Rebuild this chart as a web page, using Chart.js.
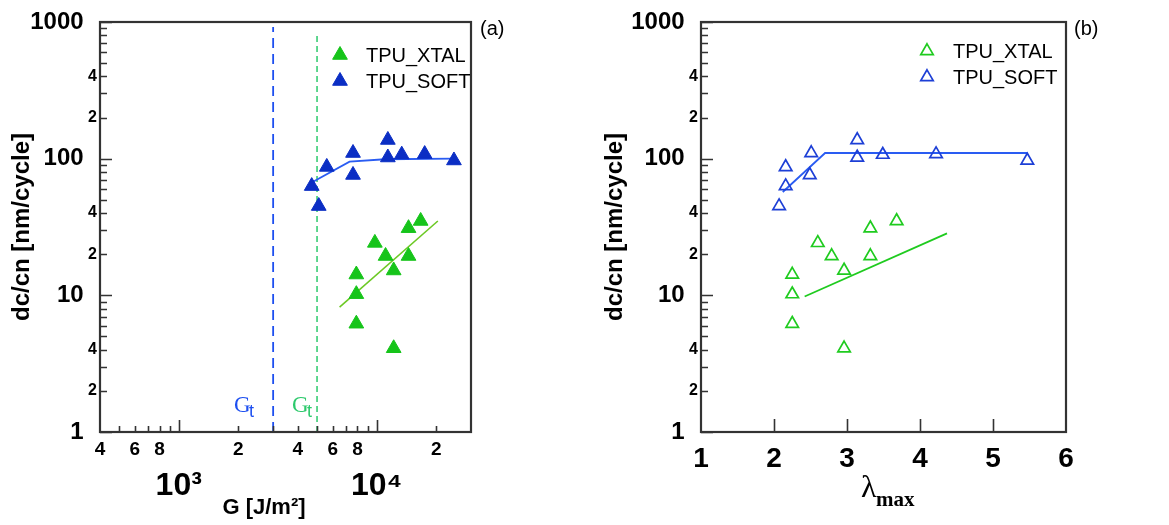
<!DOCTYPE html>
<html>
<head>
<meta charset="utf-8">
<script src="https://cdn.jsdelivr.net/npm/chart.js@4.4.1/dist/chart.umd.min.js"></script>
<style>
  html, body { margin: 0; padding: 0; background: #fff; }
  #wrap { position: relative; width: 1169px; height: 525px; }
  canvas { position: absolute; top: 0; }
  #chartA { left: 0; }
  #chartB { left: 580px; }
</style>
</head>
<body>
<div id="wrap">
  <canvas id="chartA" width="580" height="525"></canvas>
  <canvas id="chartB" width="589" height="525"></canvas>
</div>
<script>
// ===== DADOS =====
// painel (a): taxa x G [J/m2]
const xtalG    = [7900, 7900, 7900, 9800, 11100, 12200, 12200, 14500, 14500, 16700];
const xtalRate = [14.2, 10.2, 6.2, 24.2, 19.4, 15.2, 4.1, 31, 19.4, 35];
const softG    = [4700, 5100, 5600, 7600, 7600, 11400, 11400, 13400, 17500, 24600];
const softRate = [63, 45, 87, 110, 76, 137, 102, 107, 108, 97];

// ajustes do painel (a)
const xtalFitG    = [6500, 20400];
const xtalFitRate = [8.2, 35];
const softFitG    = [4700, 7300, 11000, 24600];
const softFitRate = [67, 95, 99, 100];

// limiares Gt
const gtSoft = 3000;
const gtXtal = 5000;

// painel (b): taxa x lambda_max
const xtalLambda  = [2.25, 2.25, 2.25, 2.60, 2.79, 2.96, 2.96, 3.32, 3.32, 3.68];
const xtalRateB   = [14.2, 10.2, 6.2, 24.2, 19.4, 15.2, 4.1, 31, 19.4, 35];
const softLambda  = [2.07, 2.16, 2.16, 2.49, 2.51, 3.14, 3.14, 3.49, 4.22, 5.47];
const softRateB   = [45, 63, 87, 76, 110, 137, 102, 107, 108, 97];

// ajustes do painel (b)
const xtalFitLambda = [2.42, 4.37];
const xtalFitRateB  = [9.8, 28.4];
const softFitLambda = [2.12, 2.70, 5.47];
const softFitRateB  = [57, 110, 110];

// rótulos dos eixos
const yLabelValues = [1, 2, 4, 10, 20, 40, 100, 200, 400, 1000];
const yLabelTexts  = ['1', '2', '4', '10', '2', '4', '100', '2', '4', '1000'];
const gLabelValues = [400, 600, 800, 1000, 2000, 4000, 6000, 8000, 10000, 20000];
const gLabelTexts  = ['4', '6', '8', '10³', '2', '4', '6', '8', '10⁴', '2'];
const lambdaTicks  = [1, 2, 3, 4, 5, 6];

// ===== ESTILO =====
const FONT = "'Liberation Sans', Arial, sans-serif";
const SERIF = "'Liberation Serif', 'Times New Roman', serif";
const VERDE = '#16c41a';
const AZUL = '#0b2ec4';
const AZUL_LINHA = '#2a5cf2';
const VERDE_LINHA = '#6cc924';
const VERDE_B = '#1fcb1f';
const AZUL_B = '#1d3fd6';

function isDecade(v) {
  const l = Math.log10(v);
  return Math.abs(l - Math.round(l)) < 1e-9;
}

function pontos(xs, ys) {
  return xs.map((x, i) => ({ x, y: ys[i] }));
}

// marcas menores dos eixos log (1..9 por década)
function logMarks(min, max) {
  const out = [];
  for (let d = 1; d <= max; d *= 10) {
    for (let k = 1; k <= 9; k++) {
      const v = k * d;
      if (v >= min && v <= max) out.push(v);
    }
  }
  return out;
}

// Eixo Y (igual nos dois painéis)
function eixoY(largura, tituloPad) {
  return {
    type: 'logarithmic',
    min: 1,
    max: 1000,
    afterBuildTicks: s => { s.ticks = logMarks(1, 1000).map(v => ({ value: v })); },
    afterFit: s => { s.width = largura; },
    grid: { display: false, drawTicks: false },
    border: { display: false },
    ticks: {
      autoSkip: false,
      padding: 3,
      color: '#000',
      callback: v => {
        const i = yLabelValues.indexOf(v);
        if (i < 0) return '';
        return isDecade(v) ? yLabelTexts[i] + '  ' : yLabelTexts[i];
      },
      font: c => (c.tick && isDecade(c.tick.value))
        ? { family: FONT, size: 24, weight: 'bold' }
        : { family: FONT, size: 16, weight: 'bold' }
    },
    title: {
      display: true,
      text: 'dc/cn [nm/cycle]',
      color: '#000',
      font: { family: FONT, size: 24, weight: 'bold' },
      padding: { top: tituloPad, bottom: 0 }
    }
  };
}

// ===== PLUGIN: moldura, marcas internas e textos =====
const decor = {
  id: 'decor',
  afterDraw(chart, args, opts) {
    const { ctx, chartArea: a } = chart;
    const xs = chart.scales.x, ys = chart.scales.y;
    ctx.save();
    ctx.strokeStyle = '#333';
    ctx.lineWidth = 1.6;
    ctx.beginPath();
    ys.ticks.forEach(t => {
      const p = Math.round(ys.getPixelForValue(t.value)) + 0.5;
      const len = isDecade(t.value) ? 12 : 7;
      ctx.moveTo(a.left, p);
      ctx.lineTo(a.left + len, p);
    });
    xs.ticks.forEach(t => {
      const p = Math.round(xs.getPixelForValue(t.value)) + 0.5;
      if (p <= a.left + 1 || p >= a.right - 1) return;
      const len = opts.xLinear ? 13 : (isDecade(t.value) ? 12 : 6);
      ctx.moveTo(p, a.bottom);
      ctx.lineTo(p, a.bottom - len);
    });
    ctx.stroke();

    ctx.lineWidth = 2.2;
    ctx.strokeRect(a.left, a.top, a.right - a.left, a.bottom - a.top);

    // legenda
    (opts.legenda || []).forEach(item => {
      const ds = chart.data.datasets[item.ds];
      ctx.fillStyle = item.hollow ? 'rgba(0,0,0,0)' : ds.backgroundColor;
      ctx.strokeStyle = ds.borderColor;
      ctx.lineWidth = ds.borderWidth;
      Chart.helpers.drawPoint(ctx, {
        pointStyle: 'triangle', radius: ds.pointRadius, rotation: 0, borderWidth: ds.borderWidth
      }, item.mx, item.y);
      ctx.fillStyle = '#000';
      ctx.font = '20px ' + FONT;
      ctx.textAlign = 'left';
      ctx.textBaseline = 'middle';
      ctx.fillText(ds.label, item.tx, item.y + 1);
    });

    // textos soltos
    (opts.textos || []).forEach(t => {
      ctx.fillStyle = t.color || '#000';
      ctx.font = t.font;
      ctx.textAlign = t.align || 'left';
      ctx.textBaseline = 'alphabetic';
      ctx.fillText(t.text, t.x, t.y);
    });
    ctx.restore();
  }
};

// ===== PAINEL (a) =====
new Chart(document.getElementById('chartA'), {
  type: 'scatter',
  data: {
    datasets: [
      { label: 'TPU_XTAL', data: pontos(xtalG, xtalRate), pointStyle: 'triangle', pointRadius: 8.5,
        backgroundColor: VERDE, borderColor: VERDE, borderWidth: 1, showLine: false },
      { label: 'TPU_SOFT', data: pontos(softG, softRate), pointStyle: 'triangle', pointRadius: 8.5,
        backgroundColor: AZUL, borderColor: AZUL, borderWidth: 1, showLine: false },
      { label: 'ajuste xtal', data: pontos(xtalFitG, xtalFitRate), showLine: true, pointRadius: 0,
        borderColor: VERDE_LINHA, borderWidth: 1.6 },
      { label: 'ajuste soft', data: pontos(softFitG, softFitRate), showLine: true, pointRadius: 0,
        borderColor: AZUL_LINHA, borderWidth: 1.8 },
      { label: 'Gt soft', data: [{ x: gtSoft, y: 1 }, { x: gtSoft, y: 920 }], showLine: true, pointRadius: 0,
        borderColor: '#1d4ff0', borderWidth: 1.8, borderDash: [10, 6] },
      { label: 'Gt xtal', data: [{ x: gtXtal, y: 1 }, { x: gtXtal, y: 820 }], showLine: true, pointRadius: 0,
        borderColor: '#2dc96c', borderWidth: 1.5, borderDash: [6, 4] }
    ]
  },
  options: {
    responsive: false,
    animation: false,
    events: [],
    devicePixelRatio: 1,
    layout: { padding: { left: 0, top: 22, right: 109, bottom: 0 } },
    scales: {
      x: {
        type: 'logarithmic',
        min: 400,
        max: 30000,
        afterBuildTicks: s => { s.ticks = logMarks(400, 30000).map(v => ({ value: v })); },
        afterFit: s => { s.height = 93; },
        grid: { display: false, drawTicks: false },
        border: { display: false },
        ticks: {
          autoSkip: false, maxRotation: 0, minRotation: 0, padding: 6, color: '#000',
          callback: v => {
            const i = gLabelValues.indexOf(v);
            if (i < 0) return '';
            return isDecade(v) ? ['', gLabelTexts[i]] : gLabelTexts[i];
          },
          font: c => (c.tick && isDecade(c.tick.value))
            ? { family: FONT, size: 32, weight: 'bold', lineHeight: 1 }
            : { family: FONT, size: 19, weight: 'bold' }
        },
        title: { display: false }
      },
      y: eixoY(100, 8)
    },
    plugins: {
      legend: { display: false },
      tooltip: { enabled: false },
      decor: {
        legenda: [
          { ds: 0, mx: 340, tx: 366, y: 55 },
          { ds: 1, mx: 340, tx: 366, y: 81 }
        ],
        textos: [
          { text: 'G [J/m²]', x: 264, y: 514, font: 'bold 22px ' + FONT, align: 'center' },
          { text: '(a)', x: 480, y: 35, font: '20px ' + FONT },
          { text: 'G', x: 234, y: 412, font: '23px ' + SERIF, color: '#1d4ff0' },
          { text: 't', x: 249, y: 417, font: '18px ' + FONT, color: '#1d4ff0' },
          { text: 'G', x: 292, y: 412, font: '23px ' + SERIF, color: '#2dc96c' },
          { text: 't', x: 307, y: 417, font: '18px ' + FONT, color: '#2dc96c' }
        ]
      }
    }
  },
  plugins: [decor]
});

// ===== PAINEL (b) =====
new Chart(document.getElementById('chartB'), {
  type: 'scatter',
  data: {
    datasets: [
      { label: 'TPU_XTAL', data: pontos(xtalLambda, xtalRateB), pointStyle: 'triangle', pointRadius: 7.2,
        backgroundColor: 'rgba(0,0,0,0)', borderColor: VERDE_B, borderWidth: 1.7, showLine: false },
      { label: 'TPU_SOFT', data: pontos(softLambda, softRateB), pointStyle: 'triangle', pointRadius: 7.2,
        backgroundColor: 'rgba(0,0,0,0)', borderColor: AZUL_B, borderWidth: 1.7, showLine: false },
      { label: 'ajuste xtal', data: pontos(xtalFitLambda, xtalFitRateB), showLine: true, pointRadius: 0,
        borderColor: VERDE_B, borderWidth: 1.8 },
      { label: 'ajuste soft', data: pontos(softFitLambda, softFitRateB), showLine: true, pointRadius: 0,
        borderColor: AZUL_LINHA, borderWidth: 1.8 }
    ]
  },
  options: {
    responsive: false,
    animation: false,
    events: [],
    devicePixelRatio: 1,
    layout: { padding: { left: 0, top: 22, right: 103, bottom: 0 } },
    scales: {
      x: {
        type: 'linear',
        min: 1,
        max: 6,
        afterBuildTicks: s => { s.ticks = lambdaTicks.map(v => ({ value: v })); },
        afterFit: s => { s.height = 93; },
        grid: { display: false, drawTicks: false },
        border: { display: false },
        ticks: {
          autoSkip: false, maxRotation: 0, minRotation: 0, padding: 10, color: '#000',
          callback: v => String(v),
          font: { family: FONT, size: 28, weight: 'bold' }
        },
        title: { display: false }
      },
      y: eixoY(121, 21)
    },
    plugins: {
      legend: { display: false },
      tooltip: { enabled: false },
      decor: {
        xLinear: true,
        legenda: [
          { ds: 0, mx: 347, tx: 373, y: 51, hollow: true },
          { ds: 1, mx: 347, tx: 373, y: 77, hollow: true }
        ],
        textos: [
          { text: 'λ', x: 281, y: 497, font: '32px ' + SERIF },
          { text: 'max', x: 296, y: 506, font: 'bold 21px ' + SERIF },
          { text: '(b)', x: 494, y: 35, font: '20px ' + FONT }
        ]
      }
    }
  },
  plugins: [decor]
});
</script>
</body>
</html>
